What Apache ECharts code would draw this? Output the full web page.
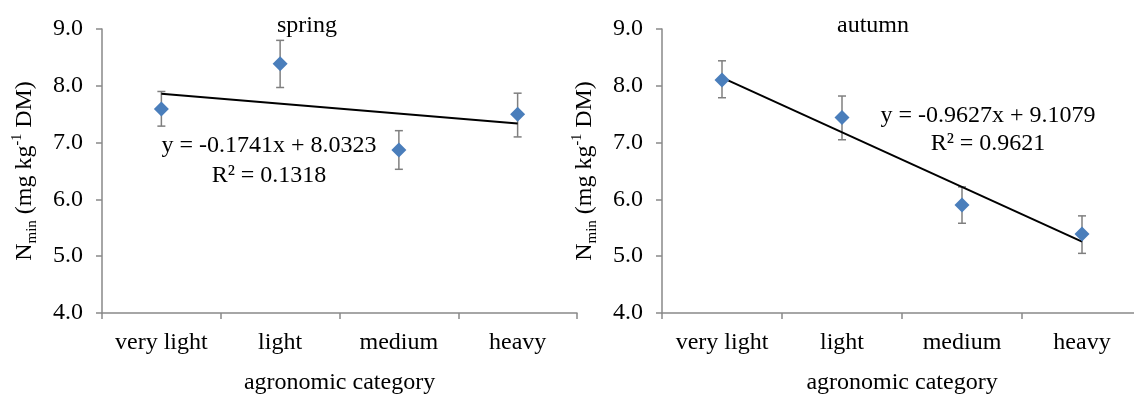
<!DOCTYPE html>
<html>
<head>
<meta charset="utf-8">
<script src="https://cdn.jsdelivr.net/npm/echarts@6/dist/echarts.min.js"></script>
<style>
  html, body { margin: 0; padding: 0; background: #fff; }
  #chart { width: 1134px; height: 394px; }
</style>
</head>
<body>
<div id="chart"></div>
<script>
// categories
var categories = ['very light', 'light', 'medium', 'heavy'];
var yTicks = [4, 5, 6, 7, 8, 9];

// spring: mean and error bar ends
var springMean = [7.59, 8.39, 6.87, 7.50];
var springLow = [7.29, 7.97, 6.53, 7.10];
var springHigh = [7.90, 8.80, 7.21, 7.87];
// y = slope * x + intercept
var springFit = [-0.1741, 8.0323];
var springR2 = 0.1318;

// autumn
var autumnMean = [8.10, 7.44, 5.90, 5.39];
var autumnLow = [7.79, 7.05, 5.58, 5.05];
var autumnHigh = [8.44, 7.82, 6.22, 5.71];
var autumnFit = [-0.9627, 9.1079];
var autumnR2 = 0.9621;

var FONT = '"Liberation Serif", "Times New Roman", serif';
var AXIS_COLOR = '#898989';

var myChart = echarts.init(document.getElementById('chart'));

function fitLine(fit) {
	// trend line from first to last category (x = 1..n)
	var n = categories.length;
	return [[0, fit[0] * 1 + fit[1]], [n - 1, fit[0] * n + fit[1]]];
}

function errData(low, high) {
	var out = [];
	for (var i = 0; i < categories.length; i++) {
		out.push([i, low[i], high[i]]);
	}
	return out;
}

function renderErr(params, api) {
	var x = api.value(0);
	var top = api.coord([x, api.value(2)]);
	var bot = api.coord([x, api.value(1)]);
	var cap = 4;
	var st = { stroke: '#7f7f7f', lineWidth: 1.5 };
	return {
		type: 'group',
		children: [
			{ type: 'line', shape: { x1: top[0], y1: top[1], x2: bot[0], y2: bot[1] }, style: st },
			{ type: 'line', shape: { x1: top[0] - cap, y1: top[1], x2: top[0] + cap, y2: top[1] }, style: st },
			{ type: 'line', shape: { x1: bot[0] - cap, y1: bot[1], x2: bot[0] + cap, y2: bot[1] }, style: st }
		]
	};
}

function xAxis(idx) {
	return {
		type: 'category',
		gridIndex: idx,
		data: categories,
		boundaryGap: true,
		name: 'agronomic category',
		nameLocation: 'middle',
		nameGap: 58,
		nameTextStyle: { fontFamily: FONT, fontSize: 24, color: '#000' },
		axisLine: { lineStyle: { color: AXIS_COLOR, width: 1.5 } },
		axisTick: { show: true, length: 6, lineStyle: { color: AXIS_COLOR, width: 1.5 } },
		axisLabel: { fontFamily: FONT, fontSize: 24, color: '#000', margin: 18, interval: 0 },
		splitLine: { show: false }
	};
}

function yAxis(idx) {
	return {
		type: 'value',
		gridIndex: idx,
		min: yTicks[0],
		max: yTicks[yTicks.length - 1],
		interval: 1,
		name: '{n|N}{sub|min}{n| (mg kg}{sup|-1}{n| DM)}',
		nameLocation: 'middle',
		nameRotate: 90,
		nameGap: 62,
		nameTextStyle: {
			fontFamily: FONT,
			color: '#000',
			rich: {
				n: { fontFamily: FONT, fontSize: 24, lineHeight: 30, color: '#000' },
				sub: { fontFamily: FONT, fontSize: 15, lineHeight: 16, verticalAlign: 'bottom', color: '#000' },
				sup: { fontFamily: FONT, fontSize: 14, lineHeight: 16, verticalAlign: 'top', color: '#000' }
			}
		},
		axisLine: { show: true, lineStyle: { color: AXIS_COLOR, width: 1.5 } },
		axisTick: { show: true, length: 6, lineStyle: { color: AXIS_COLOR, width: 1.5 } },
		axisLabel: {
			fontFamily: FONT, fontSize: 24, color: '#000', margin: 19,
			formatter: function (v) { return v.toFixed(1); }
		},
		splitLine: { show: false }
	};
}

function seriesFor(idx, mean, low, high, fit) {
	return [
		{
			type: 'custom',
			xAxisIndex: idx,
			yAxisIndex: idx,
			renderItem: renderErr,
			encode: { x: 0, y: [1, 2] },
			data: errData(low, high),
			z: 2
		},
		{
			type: 'line',
			xAxisIndex: idx,
			yAxisIndex: idx,
			data: fitLine(fit),
			symbol: 'none',
			lineStyle: { color: '#000', width: 2 },
			z: 3
		},
		{
			type: 'scatter',
			xAxisIndex: idx,
			yAxisIndex: idx,
			data: mean.map(function (v, i) { return [i, v]; }),
			symbol: 'diamond',
			symbolSize: 15,
			itemStyle: { color: '#4a7ebb', opacity: 1 },
			z: 4
		}
	];
}

function eqText(fit) {
	return 'y = ' + fit[0].toFixed(4) + 'x + ' + fit[1].toFixed(4);
}

function txt(x, y, s) {
	return {
		type: 'text',
		x: x,
		y: y,
		style: {
			text: s,
			fontFamily: FONT,
			fontSize: 24,
			fill: '#000',
			textAlign: 'center',
			textVerticalAlign: 'middle'
		}
	};
}

option = {
	animation: false,
	backgroundColor: '#fff',
	grid: [
		{ left: 102, top: 29, width: 475, height: 284, outerBoundsMode: 'none' },
		{ left: 662, top: 29, width: 480, height: 284, outerBoundsMode: 'none' }
	],
	xAxis: [xAxis(0), xAxis(1)],
	yAxis: [yAxis(0), yAxis(1)],
	series: []
		.concat(seriesFor(0, springMean, springLow, springHigh, springFit))
		.concat(seriesFor(1, autumnMean, autumnLow, autumnHigh, autumnFit)),
	graphic: [
		txt(307, 26, 'spring'),
		txt(873, 26, 'autumn'),
		txt(269, 146, eqText(springFit)),
		txt(269, 176, 'R² = ' + springR2.toFixed(4)),
		txt(988, 116, eqText(autumnFit)),
		txt(988, 144, 'R² = ' + autumnR2.toFixed(4))
	]
};

myChart.setOption(option);
</script>
</body>
</html>
